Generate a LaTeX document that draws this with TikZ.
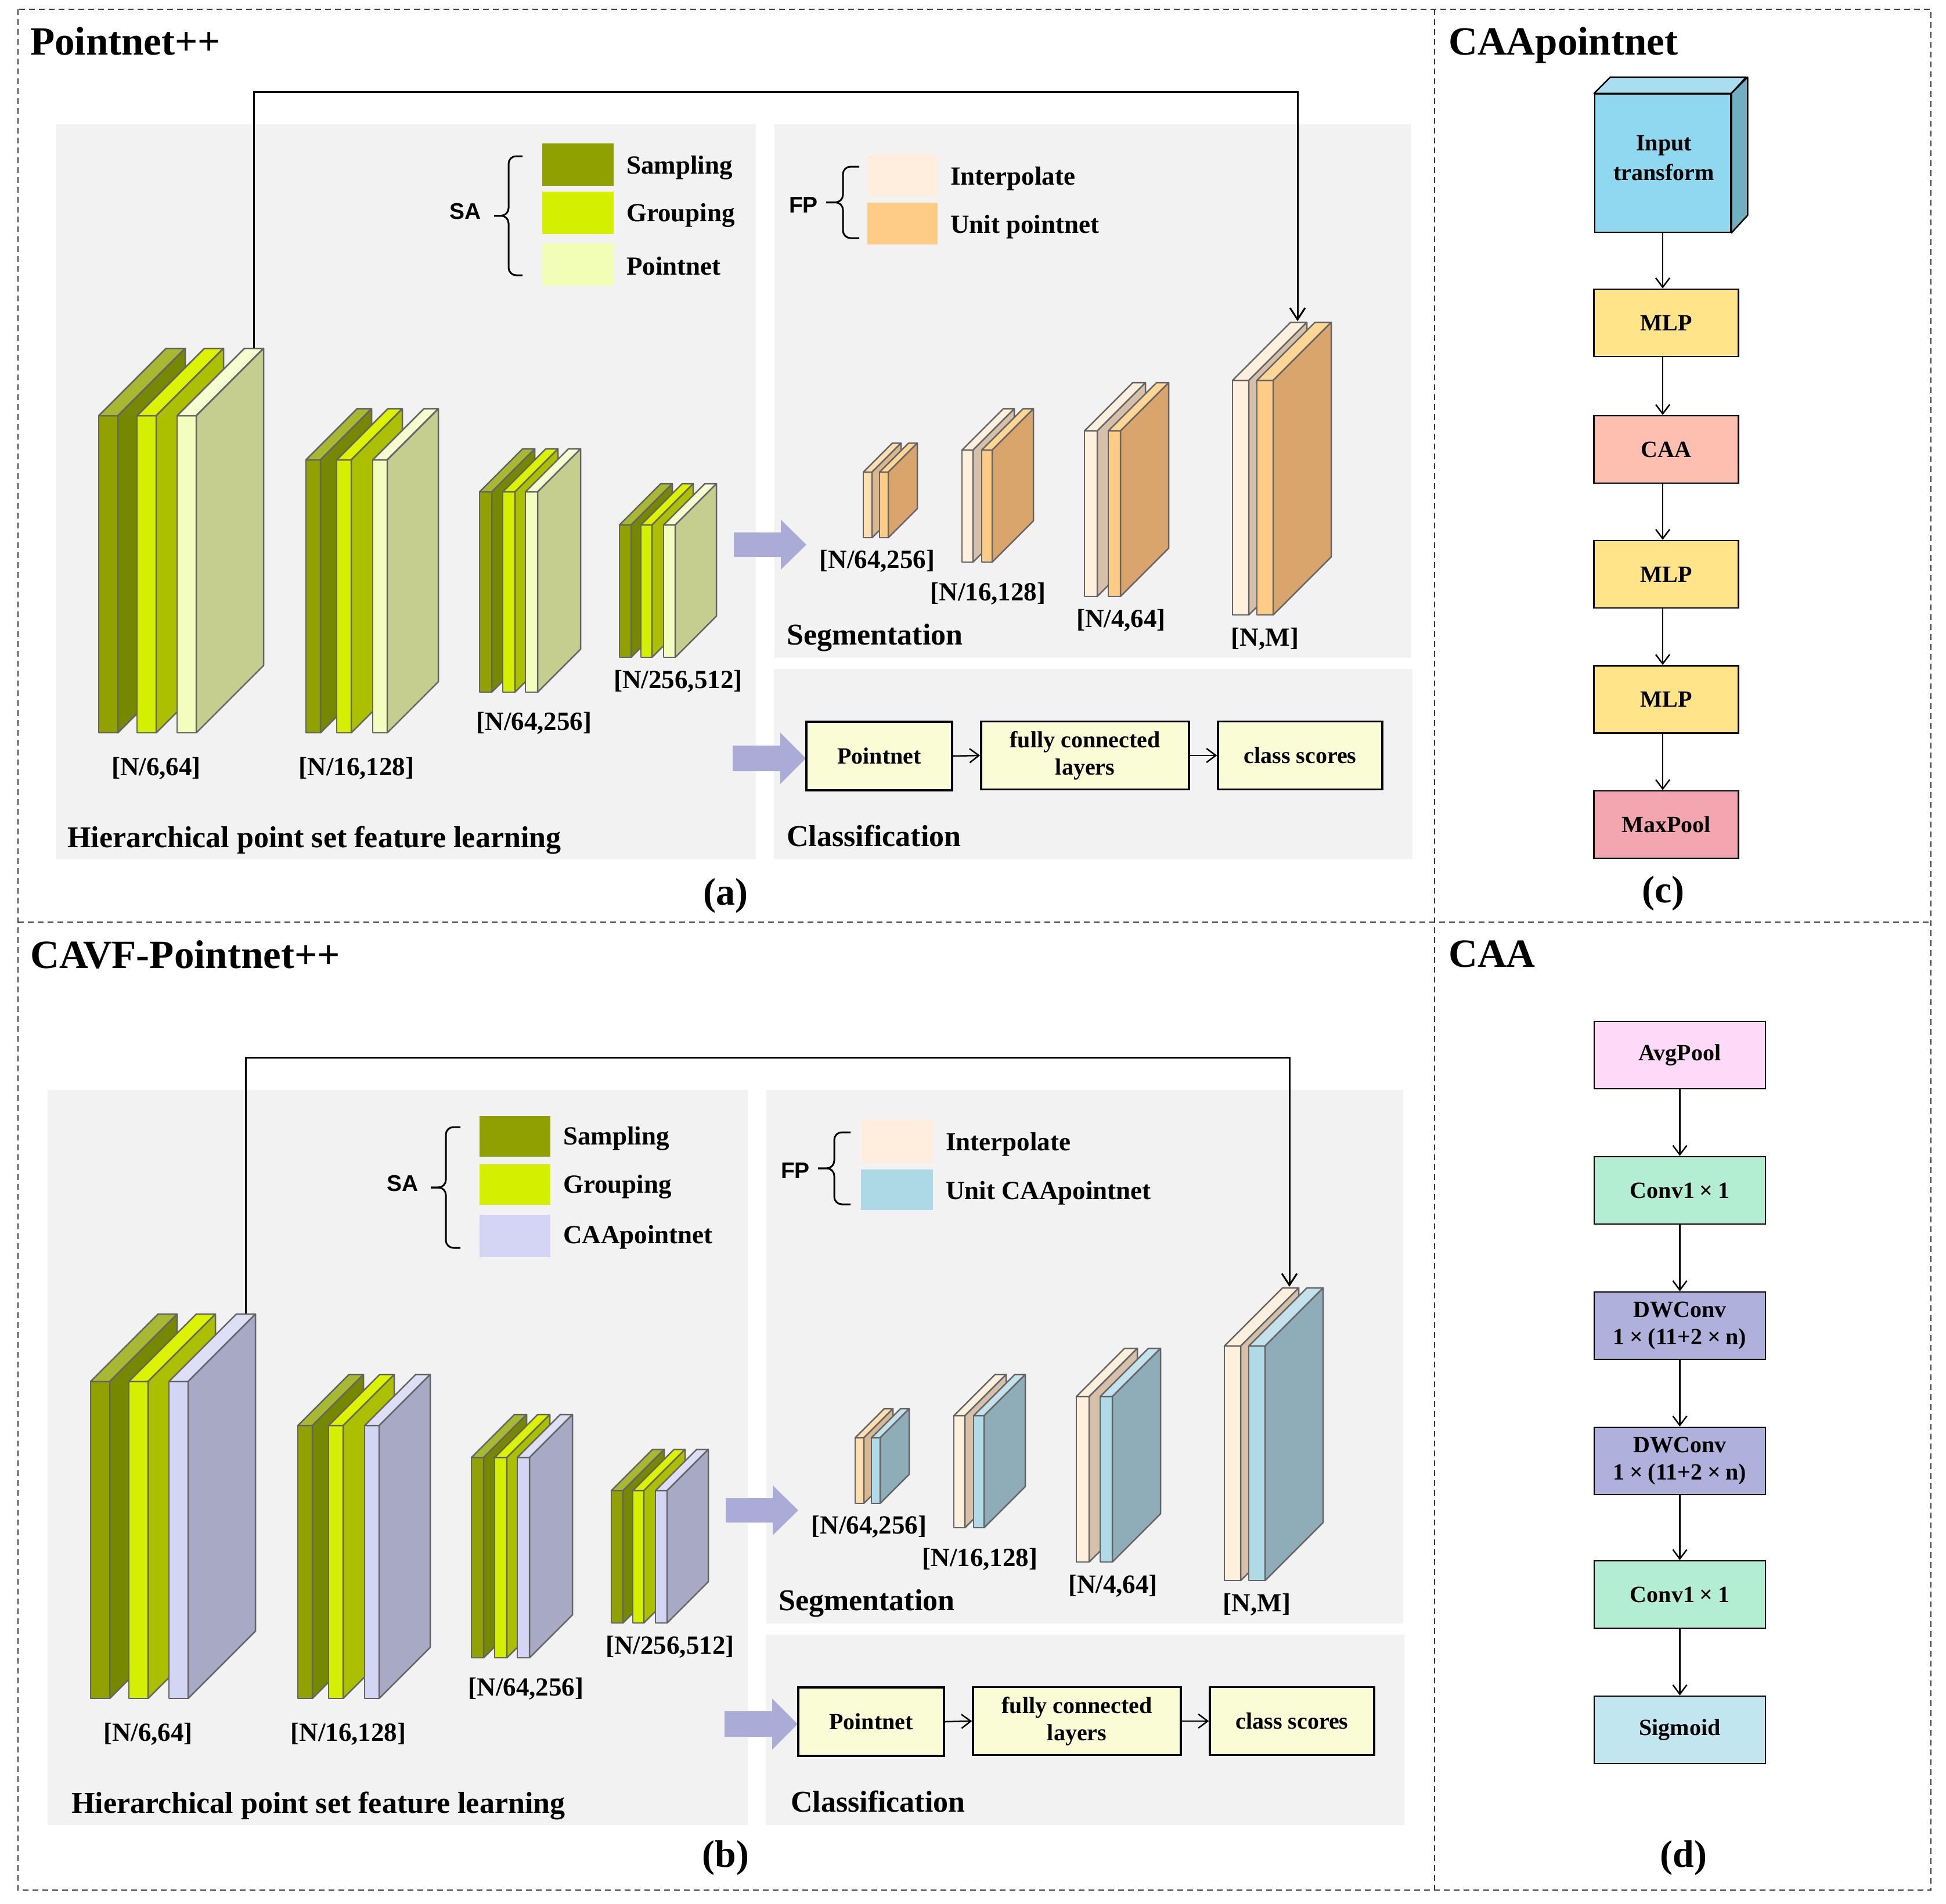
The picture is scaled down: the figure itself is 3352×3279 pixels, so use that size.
\documentclass[tikz,border=0pt]{standalone}
\usepackage{fontspec}
\setmainfont{Liberation Serif}
\newfontfamily\SAfont{Liberation Sans}
\usetikzlibrary{arrows.meta}

\definecolor{panelgray}{RGB}{242,242,242}
\definecolor{slabline}{RGB}{100,100,100}
\definecolor{frameC}{RGB}{60,60,60}
\definecolor{olvF}{RGB}{145,162,0}
\definecolor{olvS}{RGB}{118,136,0}
\definecolor{olvT}{RGB}{168,184,48}
\definecolor{grpF}{RGB}{212,240,0}
\definecolor{grpS}{RGB}{172,192,0}
\definecolor{grpT}{RGB}{220,243,0}
\definecolor{pntF}{RGB}{243,253,190}
\definecolor{pntS}{RGB}{197,205,143}
\definecolor{pntT}{RGB}{246,255,208}
\definecolor{caaF}{RGB}{212,212,244}
\definecolor{caaS}{RGB}{168,170,197}
\definecolor{caaT}{RGB}{222,222,247}
\definecolor{intF}{RGB}{255,240,222}
\definecolor{intS}{RGB}{214,192,170}
\definecolor{pchF}{RGB}{255,222,176}
\definecolor{pchS}{RGB}{217,184,144}
\definecolor{uptF}{RGB}{255,204,136}
\definecolor{uptS}{RGB}{218,165,108}
\definecolor{uptT}{RGB}{255,214,150}
\definecolor{ucaF}{RGB}{176,218,230}
\definecolor{ucaS}{RGB}{142,173,184}
\definecolor{ucaT}{RGB}{195,226,236}
\definecolor{purp}{RGB}{171,171,216}
\definecolor{clsC}{RGB}{250,252,214}
\definecolor{smpC}{RGB}{143,160,0}
\definecolor{grpC}{RGB}{212,239,0}
\definecolor{pntC}{RGB}{242,253,181}
\definecolor{caaC}{RGB}{212,212,244}
\definecolor{intC}{RGB}{255,238,221}
\definecolor{uptC}{RGB}{255,204,136}
\definecolor{ucaC}{RGB}{173,216,230}
\definecolor{itF}{RGB}{143,216,239}
\definecolor{itT}{RGB}{168,222,240}
\definecolor{itS}{RGB}{112,174,194}
\definecolor{mlpC}{RGB}{255,228,138}
\definecolor{caaBox}{RGB}{255,191,176}
\definecolor{mpC}{RGB}{244,166,176}
\definecolor{avgC}{RGB}{255,217,248}
\definecolor{convC}{RGB}{179,237,210}
\definecolor{dwC}{RGB}{176,176,220}
\definecolor{sigC}{RGB}{194,230,240}

\newcommand\FWtimes{\kern0.215em×\kern0.215em}

\tikzset{
  slabedge/.style={draw=slabline, line width=2.5, line join=round},
  dimlbl/.style={font=\fontsize{45}{52}\selectfont\bfseries, inner sep=0},
  seclbl/.style={font=\fontsize{52}{60}\selectfont\bfseries, inner sep=0, anchor=base west},
  titlelbl/.style={font=\fontsize{69}{80}\selectfont\bfseries, inner sep=0, anchor=base west},
  plbl/.style={font=\fontsize{66}{76}\selectfont\bfseries, inner sep=0},
  legtxt/.style={font=\fontsize{45}{52}\selectfont\bfseries, inner sep=0, anchor=west},
  satxt/.style={font=\SAfont\fontsize{39}{46}\selectfont\bfseries, inner sep=0},
  swatch/.style={inner sep=0, draw=none},
  bracestyle/.style={draw=black, line width=3, rounded corners=13},
  clsbox/.style={draw=black, line width=3.5, fill=clsC, inner sep=0, align=center,
    font=\fontsize{40}{47}\selectfont\bfseries},
  flowbox/.style={draw=black, line width=2.5, inner sep=0, align=center,
    font=\fontsize{40}{47}\selectfont\bfseries},
  conn/.style={draw=black, line width=2.5, -{Straight Barb[length=16,width=24]}},
  skipline/.style={draw=black, line width=3, -{Straight Barb[length=20,width=26]}},
  frameline/.style={draw=frameC, line width=2.5, dash pattern=on 10 off 7},
}

% brace: #1 = x of ends, #2 = x of spine, #3 = x of tip, #4 = top y, #5 = bottom y
\newcommand\PNbrace[5]{%
  \draw[bracestyle] (#1,#4) -- (#2,#4) -- (#2,{(#4+#5)/2}) -- (#3,{(#4+#5)/2});
  \draw[bracestyle] (#3,{(#4+#5)/2}) -- (#2,{(#4+#5)/2}) -- (#2,#5) -- (#1,#5);
}

\newcommand\PNslab[8]{%
  \filldraw[slabedge,fill=#6] (#1,#2) rectangle ({#1+#4},#3);
  \filldraw[slabedge,fill=#8] (#1,#2) -- ({#1+#5},{#2-#5}) -- ({#1+#4+#5},{#2-#5}) -- ({#1+#4},#2) -- cycle;
  \filldraw[slabedge,fill=#7] ({#1+#4},#2) -- ({#1+#4+#5},{#2-#5}) -- ({#1+#4+#5},{#3-#5}) -- ({#1+#4},#3) -- cycle;
}

\newcommand\PNpanel[5]{%
\begin{scope}[shift={(#2,#3)}]
  \fill[panelgray] (96,214) rectangle (1302,1480);
  \fill[panelgray] (1334,214) rectangle (2431,1133);
  \fill[panelgray] (1333,1152) rectangle (2433,1480);
  % encoder blocks
  \PNslab{170}{716}{1262}{33}{116}{olvF}{olvS}{olvT}
  \PNslab{236}{716}{1262}{33}{116}{grpF}{grpS}{grpT}
  \PNslab{305}{716}{1262}{33}{116}{thirdF}{thirdS}{thirdT}
  \PNslab{527}{792}{1262}{25}{88}{olvF}{olvS}{olvT}
  \PNslab{580}{792}{1262}{25}{88}{grpF}{grpS}{grpT}
  \PNslab{642}{792}{1262}{25}{88}{thirdF}{thirdS}{thirdT}
  \PNslab{826}{847}{1192}{21}{74}{olvF}{olvS}{olvT}
  \PNslab{866}{847}{1192}{21}{74}{grpF}{grpS}{grpT}
  \PNslab{905}{847}{1192}{21}{74}{thirdF}{thirdS}{thirdT}
  \PNslab{1067}{904}{1132}{20}{71}{olvF}{olvS}{olvT}
  \PNslab{1104}{904}{1132}{19}{71}{grpF}{grpS}{grpT}
  \PNslab{1143}{904}{1132}{20}{71}{thirdF}{thirdS}{thirdT}
  % decoder blocks
  \PNslab{1487}{813}{926}{15}{50}{pchF}{pchS}{pchF}
  \PNslab{1515}{813}{926}{15}{50}{unitF}{unitS}{unitT}
  \PNslab{1657}{775}{968}{19}{71}{intF}{intS}{intF}
  \PNslab{1691}{775}{968}{18}{71}{unitF}{unitS}{unitT}
  \PNslab{1868}{742}{1027}{22}{83}{intF}{intS}{intF}
  \PNslab{1909}{742}{1027}{21}{83}{unitF}{unitS}{unitT}
  \PNslab{2123}{655}{1059}{28}{100}{intF}{intS}{intF}
  \PNslab{2165}{655}{1059}{28}{100}{unitF}{unitS}{unitT}
  % size labels
  \node[dimlbl] (#1d1) at (269,1323) {[N/6,64]};
  \node[dimlbl] (#1d2) at (614,1323) {[N/16,128]};
  \node[dimlbl] (#1d3) at (920,1245) {[N/64,256]};
  \node[dimlbl] (#1d4) at (1168,1173) {[N/256,512]};
  \node[dimlbl] (#1s1) at (1511,966) {[N/64,256]};
  \node[dimlbl] (#1s2) at (1702,1022) {[N/16,128]};
  \node[dimlbl] (#1s3) at (1931,1068) {[N/4,64]};
  \node[dimlbl] (#1s4) at (2179,1100) {[N,M]};
  % section labels
  \node[seclbl] (#1hier) at (#4,1459) {Hierarchical point set feature learning};
  \node[seclbl] (#1seg) at (1355,1110) {Segmentation};
  \node[seclbl] (#1cls) at (#5,1457) {Classification};
  % big purple arrows
  \fill[purp] (1264,917) -- (1345,917) -- (1345,895) -- (1389,938) -- (1345,981) -- (1345,959) -- (1264,959) -- cycle;
  \fill[purp] (1262,1284) -- (1344,1284) -- (1344,1262) -- (1388,1306) -- (1344,1350) -- (1344,1328) -- (1262,1328) -- cycle;
  % classification row
  \node[clsbox, minimum width=251, minimum height=118] (#1cp) at (1514.5,1302) {Pointnet};
  \node[clsbox, minimum width=358, minimum height=117] (#1cf) at (1869,1301) {fully connected\\layers};
  \node[clsbox, minimum width=283, minimum height=117] (#1cs) at (2239.5,1301) {class scores};
  \draw[conn] (#1cp.east) -- (#1cf.west);
  \draw[conn] (#1cf.east) -- (#1cs.west);
  % skip connection
  \coordinate (#1skS) at (437,599);
  \coordinate (#1skE) at (2235,553);
  \draw[skipline] (#1skS) -- ++(0,-441) -| (#1skE);
\end{scope}}

\begin{document}
\begin{tikzpicture}[x=1pt,y=-1pt]
\useasboundingbox (0,0) rectangle (3352,3279);
\fill[white] (0,0) rectangle (3352,3279);

% ---------- panel (a) ----------
\colorlet{thirdF}{pntF}\colorlet{thirdS}{pntS}\colorlet{thirdT}{pntT}
\colorlet{unitF}{uptF}\colorlet{unitS}{uptS}\colorlet{unitT}{uptT}
\PNpanel{a}{0}{0}{116}{1355}

\node[titlelbl] (ta) at (52,94) {Pointnet++};
\node[plbl] (la) at (1250,1543) {(a)};

\node[swatch, fill=smpC, minimum width=123, minimum height=73] (aL1) at (995.5,283.5) {};
\node[swatch, fill=grpC, minimum width=123, minimum height=73] (aL2) at (995.5,366.5) {};
\node[swatch, fill=pntC, minimum width=123, minimum height=73] (aL3) at (995.5,455.5) {};
\node[legtxt] (aT1) at (1079,289) {Sampling};
\node[legtxt] (aT2) at (1079,371) {Grouping};
\node[legtxt] (aT3) at (1079,458) {Pointnet};
\node[satxt] (aSA) at (802,364) {SA};
\PNbrace{900}{876}{851}{269}{474}

\node[swatch, fill=intC, minimum width=121, minimum height=72] (aF1) at (1554.5,302) {};
\node[swatch, fill=uptC, minimum width=121, minimum height=72] (aF2) at (1554.5,385) {};
\node[legtxt] (aG1) at (1637,308) {Interpolate};
\node[legtxt] (aG2) at (1637,391) {Unit pointnet};
\node[satxt] (aFP) at (1384,353) {FP};
\PNbrace{1480}{1452}{1423}{287}{410}

% ---------- panel (b) ----------
\colorlet{thirdF}{caaF}\colorlet{thirdS}{caaS}\colorlet{thirdT}{caaT}
\colorlet{unitF}{ucaF}\colorlet{unitS}{ucaS}\colorlet{unitT}{ucaT}
\PNpanel{b}{-14}{1663}{137}{1376}

\node[titlelbl] (tb) at (52,1667) {CAVF-Pointnet++};
\node[plbl] (lb) at (1250,3200) {(b)};

\node[swatch, fill=smpC, minimum width=122, minimum height=70] (bL1) at (887,1957) {};
\node[swatch, fill=grpC, minimum width=122, minimum height=70] (bL2) at (887,2040) {};
\node[swatch, fill=caaC, minimum width=122, minimum height=73] (bL3) at (887,2128.5) {};
\node[legtxt] (bT1) at (970,1961) {Sampling};
\node[legtxt] (bT2) at (970,2044) {Grouping};
\node[legtxt] (bT3) at (970,2131) {CAApointnet};
\node[satxt] (bSA) at (694,2038) {SA};
\PNbrace{793}{768}{742}{1941}{2149}

\node[swatch, fill=intC, minimum width=124, minimum height=74] (bF1) at (1545,1966) {};
\node[swatch, fill=ucaC, minimum width=124, minimum height=70] (bF2) at (1545,2049) {};
\node[legtxt] (bG1) at (1629,1971) {Interpolate};
\node[legtxt] (bG2) at (1629,2055) {Unit CAApointnet};
\node[satxt] (bFP) at (1370,2016) {FP};
\PNbrace{1465}{1437}{1409}{1950}{2074}

% ---------- panel (c) ----------
\node[titlelbl] (tc) at (2495,94) {CAApointnet};
\node[flowbox, fill=itF, minimum width=234, minimum height=238] (cit) at (2864,281) {};
\filldraw[fill=itT, draw=black, line width=2.5, line join=round] (cit.north west) -- ++(28,-28) -- ++(234,0) -- (cit.north east) -- cycle;
\filldraw[fill=itS, draw=black, line width=2.5, line join=round] (cit.north east) -- ++(28,-28) -- ++(0,238) -- (cit.south east) -- cycle;
\node[flowbox, draw=none, font=\fontsize{40}{51}\selectfont\bfseries] (citl) at (2866,272) {Input\\transform};
\node[flowbox, fill=mlpC, minimum width=249, minimum height=116] (cm1) at (2870,556) {MLP};
\node[flowbox, fill=caaBox, minimum width=249, minimum height=116] (ccaa) at (2870,774) {CAA};
\node[flowbox, fill=mlpC, minimum width=249, minimum height=116] (cm2) at (2870,989) {MLP};
\node[flowbox, fill=mlpC, minimum width=249, minimum height=116] (cm3) at (2870,1204.5) {MLP};
\node[flowbox, fill=mpC, minimum width=249, minimum height=116] (cmp) at (2870,1420) {MaxPool};
\draw[conn] (cit.south) -- (cit.south |- cm1.north);
\draw[conn] (cit.south |- cm1.south) -- (cit.south |- ccaa.north);
\draw[conn] (cit.south |- ccaa.south) -- (cit.south |- cm2.north);
\draw[conn] (cit.south |- cm2.south) -- (cit.south |- cm3.north);
\draw[conn] (cit.south |- cm3.south) -- (cit.south |- cmp.north);
\node[plbl] (lc) at (2865,1539) {(c)};

% ---------- panel (d) ----------
\node[titlelbl] (td) at (2495,1665) {CAA};
\node[flowbox, fill=avgC, minimum width=295, minimum height=116] (dap) at (2893.5,1817) {AvgPool};
\node[flowbox, fill=convC, minimum width=295, minimum height=116] (dc1) at (2893.5,2050) {Conv1\FWtimes 1};
\node[flowbox, fill=dwC, minimum width=295, minimum height=116] (ddw1) at (2893.5,2283) {DWConv\\1\FWtimes(11+2\FWtimes n)};
\node[flowbox, fill=dwC, minimum width=295, minimum height=116] (ddw2) at (2893.5,2516) {DWConv\\1\FWtimes(11+2\FWtimes n)};
\node[flowbox, fill=convC, minimum width=295, minimum height=116] (dc2) at (2893.5,2746) {Conv1\FWtimes 1};
\node[flowbox, fill=sigC, minimum width=295, minimum height=116] (dsg) at (2893.5,2979) {Sigmoid};
\draw[conn] (dap) -- (dc1);
\draw[conn] (dc1) -- (ddw1);
\draw[conn] (ddw1) -- (ddw2);
\draw[conn] (ddw2) -- (dc2);
\draw[conn] (dc2) -- (dsg);
\node[plbl] (ld) at (2900,3200) {(d)};

% ---------- frame ----------
\draw[frameline] (31,16) rectangle (3326,3255);
\draw[frameline] (2471,16) -- (2471,3255);
\draw[frameline] (31,1588) -- (3326,1588);
\end{tikzpicture}
\end{document}
